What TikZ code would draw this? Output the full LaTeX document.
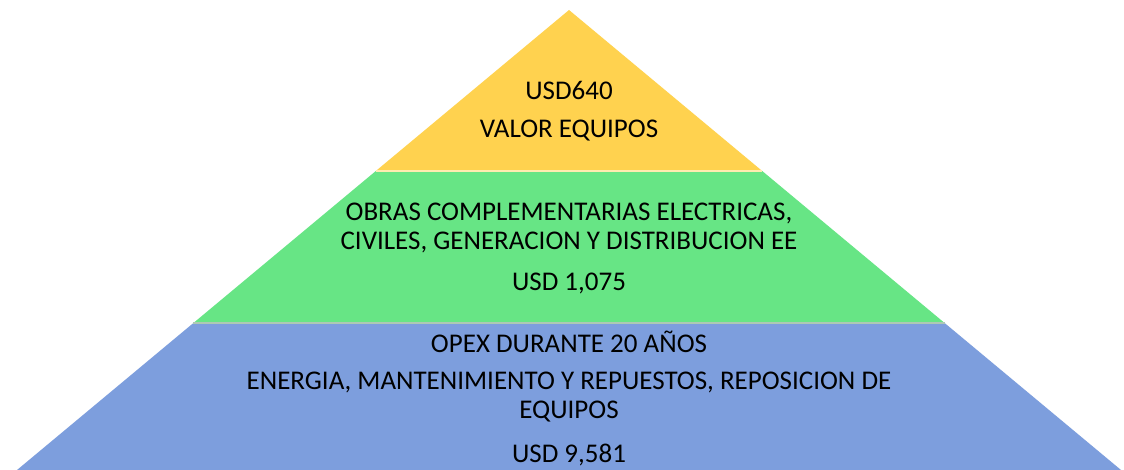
\documentclass[tikz,border=0pt]{standalone}
\usepackage{fontspec}
\setmainfont{Carlito}
\usepackage{tikz}

\definecolor{topgold}{HTML}{FFD24F}
\definecolor{midgreen}{HTML}{67E585}
\definecolor{basblue}{HTML}{7D9EDD}

\begin{document}
\begin{tikzpicture}[x=1pt, y=-1pt,
    label/.style={align=center, inner sep=0pt, font=\fontsize{27}{29}\selectfont},
    seam/.style={line width=1.6pt}]
    \useasboundingbox (0,0) rectangle (1124,470);

    % Corners of the pyramid
    \coordinate (apex) at (569,10);
    \coordinate (topL) at (375.8,171);
    \coordinate (topR) at (762.2,171);
    \coordinate (midL) at (193.4,323);
    \coordinate (midR) at (944.6,323);
    \coordinate (botL) at (17,470);
    \coordinate (botR) at (1121,470);

    % Bands
    \fill[topgold] (apex) -- (topR) -- (topL) -- cycle;
    \fill[midgreen] (topL) -- (topR) -- (midR) -- (midL) -- cycle;
    \fill[basblue] (midL) -- (midR) -- (botR) -- (botL) -- cycle;

    % Seams between bands
    \draw[seam, topgold!45!white] (topL) -- (topR);
    \draw[seam, midgreen!35!gray!60!white] (midL) -- (midR);

    % Texts
    \node[label] (usd640) at (569,90) {USD640};
    \node[label] (valor) at (569,131) {VALOR EQUIPOS};
    \node[label] (obras) at (569,227.5) {OBRAS COMPLEMENTARIAS ELECTRICAS,\\CIVILES, GENERACION Y DISTRIBUCION EE};
    \node[label] (usd1075) at (569,283) {USD 1,075};
    \node[label] (opex) at (569,342) {OPEX DURANTE 20 AÑOS};
    \node[label] (energia) at (569,397) {ENERGIA, MANTENIMIENTO Y REPUESTOS, REPOSICION DE\\EQUIPOS};
    \node[label] (usd9581) at (569,455) {USD 9,581};
\end{tikzpicture}
\end{document}
